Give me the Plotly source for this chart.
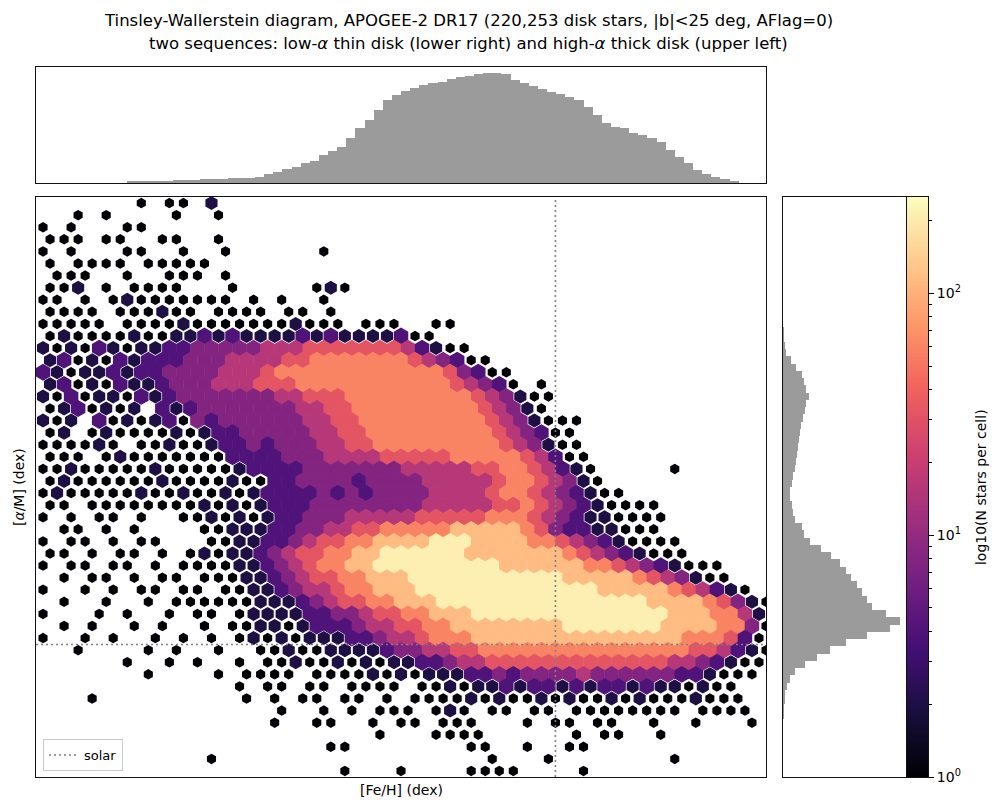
import numpy as np
import plotly.graph_objects as go

# ---------------- data ----------------
FEH_RANGE = [-1.48, 0.60]        # [Fe/H] axis range (dex)
ALPHA_RANGE = [-0.148, 0.50]     # [alpha/M] axis range (dex)
HEX_DX = 0.04                    # hex cell width in [Fe/H]
HEX_DY = 0.0135                  # hex row spacing in [alpha/M]

# count per cell for each level code used in HEX_LEVELS (0 = empty cell)
LEVEL_COUNTS = [0, 1, 2, 4, 8, 16, 32, 60, 115, 210]

# hex-cell level codes: one string per row, top row first
HEX_LEVELS = [
    "0000 0001 0110 2000",
    "0010 1000 0100 1000",
    "1010 0011 0000 0000",
    "1110 1100 1100 1000",
    "1010 0011 0010 0100 0000 1000",
    "1011 1101 1111",
    "0111 0010 0111 0100",
    "1120 1011 1100 0100 0001 2100",
    "1101 0121 1111 1101 0100 1000",
    "1111 0111 2110 1111 0110 1000",
    "1111 1011 1121 1111 1121 1101 1100 1100",
    "1211 1121 1223 2322 2232 3222 2311",
    "2121 3212 2334 4444 5556 6666 6653 2110",
    "2312 1323 3344 4555 5667 7777 7765 4311",
    "3212 2323 3444 4555 6777 7777 7777 7643 1100",
    "2312 1322 3444 5556 6677 7777 7777 7654 3101",
    "2131 2213 2344 4444 4556 6677 7777 7776 5421 1000",
    "1231 2120 3234 4444 4455 6677 7777 7776 5421",
    "2120 3121 2314 3444 4445 5667 7777 7777 6542 1110",
    "1201 2111 1212 3344 4445 5667 7777 7777 6543 1100",
    "1111 2101 1211 2334 3444 5566 7777 7777 7654 2110",
    "1110 1211 1111 1333 3444 5555 6666 6777 7765 3110",
    "1121 1111 2111 1123 3334 4444 4455 5556 6776 5321 0000 0100",
    "1211 1111 2111 1211 3344 4434 4445 5555 6776 5421",
    "1211 1112 1121 1212 3333 4343 4444 5555 6776 5432 1100",
    "1101 1111 1112 1212 3334 4444 4445 5555 6676 5432 1111",
    "1010 1101 0011 2121 2334 4455 5556 6666 7776 5432 2111 1000",
    "0110 1010 0001 1222 3344 5566 7777 7888 8876 4332 2111",
    "1011 0101 1000 1122 3345 6677 8888 9998 8887 7654 3211 1100",
    "1101 0110 1012 1223 4566 7788 9999 9988 8888 8765 4321 1100",
    "1011 0110 1011 1122 3456 7788 9999 9999 9888 8887 7654 3211 1000",
    "0101 1010 1101 1122 3456 6778 8899 9999 9999 9888 8876 5421 1000",
    "1001 0101 1011 0112 2345 5677 8889 9999 9999 9999 8888 8765 3210",
    "0100 1001 0111 1112 2234 5667 7888 9999 9999 9999 9998 8887 6421",
    "1000 1010 0101 1012 2223 3445 6677 8889 9999 9999 9999 9888 7752",
    "0101 0010 1001 0112 2123 3345 5667 7888 8888 8999 9999 8888 7741",
    "1001 0100 1010 1012 1212 2233 4556 7778 8888 8888 8888 8877 7631",
    "0010 0001 0100 1001 1211 2222 3445 5667 7777 7777 7777 7766 5321",
    "0000 0010 0101 0010 1121 1212 1223 3455 6666 6666 6666 6554 3211",
    "0000 0001 0000 1011 1101 1112 1212 2233 4344 4454 4444 4332 1110",
    "0000 0000 0000 0010 1101 1011 1101 1212 2323 3232 3323 2212 1100",
    "0001 0000 0000 0010 1011 0110 1011 1121 2112 1211 2121 1121 1100",
    "0000 0000 0000 0000 0100 1010 1110 1210 1101 1011 1111 1101 1110",
    "0000 0000 0000 0000 1001 1001 0110 1110 0010 1101 1001 0010 0010",
    "0000 0000 0000 0000 0000 0000 1000 1111 0000 0010 1100 1000 0000",
    "0000 0000 0000 0000 0000 1100 0000 0011 0010 0110",
    "0000 0000 0000 1000 0000 0000 0000 0000 1000 1000 0000 0100",
    "0000 0000 0000 0000 0000 0100 0100 0011 1100 0010",
]

# [Fe/H] marginal histogram: 80 equal bins across FEH_RANGE
TOP_HIST_COUNTS = [
    0, 0, 0, 0, 0, 0, 0, 0, 0, 0,
    68, 88, 109, 136, 156, 184, 204, 218, 238, 258,
    286, 306, 326, 360, 408, 612, 748, 932, 1088, 1340,
    1496, 1904, 2176, 2448, 3040, 3720, 4284, 4964, 5644, 5984,
    6276, 6480, 6664, 6780, 6888, 7052, 7188, 7276, 7412, 7500,
    7460, 7412, 7004, 6780, 6596, 6372, 6188, 6032, 5868, 5644,
    5148, 4624, 4100, 3828, 3720, 3380, 3264, 3040, 2808, 2244,
    1788, 1340, 884, 612, 428, 252, 68, 0, 0, 0,
]

# [alpha/M] marginal histogram: 80 equal bins across ALPHA_RANGE (lowest first)
RIGHT_HIST_COUNTS = [
    0, 0, 0, 0, 0, 0, 0, 0, 68, 109,
    177, 272, 544, 993, 1673, 2951, 4624, 6433, 8568, 11329,
    14511, 15871, 13913, 12104, 11329, 10744, 10064, 9153, 8568, 7657,
    6569, 5209, 3713, 2856, 2584, 1632, 1306, 1156, 993, 993,
    1224, 1360, 1591, 1700, 1904, 2040, 2217, 2312, 2448, 2679,
    2951, 3128, 3495, 3060, 2856, 2584, 1809, 1088, 449, 204,
    136, 95, 0, 0, 0, 0, 0, 0, 0, 0,
    0, 0, 0, 0, 0, 0, 0, 0, 0, 0,
]

CBAR_MAX = 250  # top of the colour scale (stars per cell)
CBAR_TICKS = [1, 10, 100]
CBAR_TICK_TEXT = ["10<sup>0</sup>", "10<sup>1</sup>", "10<sup>2</sup>"]

TITLE_1 = "Tinsley-Wallerstein diagram, APOGEE-2 DR17 (220,253 disk stars, |b|<25 deg, AFlag=0)"
TITLE_2 = "two sequences: low-<i>α</i> thin disk (lower right) and high-<i>α</i> thick disk (upper left)"

# ---------------- build ----------------
PAGE_PAD = 8                      # default page margin round the figure
V_SCALE = 0.9902                  # vertical scale seen between page and picture
W, H = 1000 - 2 * PAGE_PAD, 811
FONT = "DejaVu Sans"

def px_x(p):
    return (p - PAGE_PAD) / W

def px_y(p):
    return 1 - (p / V_SCALE - PAGE_PAD) / H

main_x = [px_x(36), px_x(766)]
main_y = [px_y(777), px_y(197)]
top_y = [px_y(183), px_y(67)]
right_x = [px_x(783), px_x(906)]
cbar_x = [px_x(907), px_x(928)]

cmax = np.log10(CBAR_MAX)

hx, hy, hc, hs = [], [], [], []
for j, row in enumerate(HEX_LEVELS):
    codes = row.replace(" ", "").ljust(52, "0")[:52]
    yc = ALPHA_RANGE[1] - HEX_DY * (j + 0.5)
    off = HEX_DX / 2 if j % 2 else 0.0
    for i, ch in enumerate(codes):
        lev = int(ch)
        if lev == 0:
            continue
        hx.append(FEH_RANGE[0] + HEX_DX * (i + 0.5) + off)
        hy.append(yc)
        hc.append(np.log10(LEVEL_COUNTS[lev]))
        hs.append(10.5 if lev == 1 else (14 if lev == 2 else 16.8))

fig = go.Figure()

fig.add_trace(go.Scatter(
    x=hx, y=hy, mode="markers", xaxis="x", yaxis="y", showlegend=False,
    hoverinfo="skip",
    marker=dict(symbol="hexagon", size=hs, color=hc, colorscale="Magma",
                cmin=0, cmax=cmax, opacity=1, line=dict(width=0)),
))

# solar reference lines
fig.add_trace(go.Scatter(
    x=[0, 0], y=ALPHA_RANGE, mode="lines", name="solar", xaxis="x", yaxis="y",
    line=dict(color="#808080", width=1.6, dash="2px,3px"), showlegend=True,
))
fig.add_trace(go.Scatter(
    x=FEH_RANGE, y=[0, 0], mode="lines", name="solar", xaxis="x", yaxis="y",
    line=dict(color="#808080", width=1.6, dash="2px,3px"), showlegend=False,
))

# top histogram
nb_top = len(TOP_HIST_COUNTS)
bw_top = (FEH_RANGE[1] - FEH_RANGE[0]) / nb_top
fig.add_trace(go.Bar(
    x=[FEH_RANGE[0] + bw_top * (k + 0.5) for k in range(nb_top)],
    y=TOP_HIST_COUNTS, width=bw_top, xaxis="x2", yaxis="y2",
    marker=dict(color="#9b9b9b", line=dict(width=0)), showlegend=False,
    hoverinfo="skip",
))

# right histogram
nb_r = len(RIGHT_HIST_COUNTS)
bw_r = (ALPHA_RANGE[1] - ALPHA_RANGE[0]) / nb_r
fig.add_trace(go.Bar(
    y=[ALPHA_RANGE[0] + bw_r * (m + 0.5) for m in range(nb_r)],
    x=RIGHT_HIST_COUNTS, width=bw_r, orientation="h", xaxis="x3", yaxis="y3",
    marker=dict(color="#9b9b9b", line=dict(width=0)), showlegend=False,
    hoverinfo="skip",
))

# colour bar drawn as a heatmap on its own log-count axis
cb_vals = np.linspace(0, cmax, 300)
fig.add_trace(go.Heatmap(
    z=[[v] for v in cb_vals], x=[0.5], y=cb_vals, xaxis="x4", yaxis="y4",
    colorscale="Magma", zmin=0, zmax=cmax, showscale=False, hoverinfo="skip",
))

frame = dict(showline=True, mirror=True, linecolor="#111111", linewidth=1,
             showgrid=False, zeroline=False, showticklabels=False, ticks="")

minor_vals = [np.log10(m * d) for d in (1, 10, 100) for m in range(2, 10) if m * d <= CBAR_MAX]

fig.update_layout(
    width=W, height=H,
    margin=dict(l=0, r=0, t=0, b=0),
    paper_bgcolor="white", plot_bgcolor="white",
    font=dict(family=FONT, size=14, color="black"),
    bargap=0, barmode="overlay",
    xaxis=dict(domain=main_x, range=FEH_RANGE, anchor="y", **frame),
    yaxis=dict(domain=main_y, range=ALPHA_RANGE, anchor="x", **frame),
    xaxis2=dict(domain=main_x, range=FEH_RANGE, anchor="y2", **frame),
    yaxis2=dict(domain=top_y, range=[0, max(TOP_HIST_COUNTS) * 1.05], anchor="x2", **frame),
    xaxis3=dict(domain=right_x, range=[0, max(RIGHT_HIST_COUNTS) * 1.05], anchor="y3", **frame),
    yaxis3=dict(domain=main_y, range=ALPHA_RANGE, anchor="x3", **frame),
    xaxis4=dict(domain=cbar_x, range=[0, 1], anchor="y4", **frame),
    yaxis4=dict(domain=main_y, range=[0, cmax], anchor="x4", side="right",
                showline=True, mirror=True, linecolor="#111111", linewidth=1,
                showgrid=False, zeroline=False,
                tickmode="array", tickvals=[np.log10(t) for t in CBAR_TICKS],
                ticktext=CBAR_TICK_TEXT, ticks="outside", ticklen=5, tickwidth=1,
                tickcolor="black", tickfont=dict(size=14, family=FONT),
                minor=dict(tickmode="array", tickvals=minor_vals, ticks="outside",
                           ticklen=3, tickwidth=0.8, tickcolor="black", showgrid=False)),
    legend=dict(x=px_x(43), y=px_y(771), xanchor="left", yanchor="bottom",
                bgcolor="rgba(255,255,255,0.85)", bordercolor="#cccccc", borderwidth=1,
                font=dict(size=13, family=FONT), itemwidth=30),
    annotations=[
        dict(text=TITLE_1, x=px_x(468), y=px_y(20), xref="paper", yref="paper",
             showarrow=False, xanchor="center", yanchor="middle",
             font=dict(size=16.5, family=FONT)),
        dict(text=TITLE_2, x=px_x(468), y=px_y(43), xref="paper", yref="paper",
             showarrow=False, xanchor="center", yanchor="middle",
             font=dict(size=16.5, family=FONT)),
        dict(text="[Fe/H] (dex)", x=px_x(401), y=px_y(790), xref="paper", yref="paper",
             showarrow=False, xanchor="center", yanchor="middle",
             font=dict(size=14, family=FONT)),
        dict(text="[<i>α</i>/M] (dex)", x=px_x(19), y=px_y(487), xref="paper", yref="paper",
             showarrow=False, xanchor="center", yanchor="middle", textangle=-90,
             font=dict(size=14, family=FONT)),
        dict(text="log10(N stars per cell)", x=px_x(981), y=px_y(487), xref="paper", yref="paper",
             showarrow=False, xanchor="center", yanchor="middle", textangle=-90,
             font=dict(size=14, family=FONT)),
    ],
)

fig.write_html("out.html")
